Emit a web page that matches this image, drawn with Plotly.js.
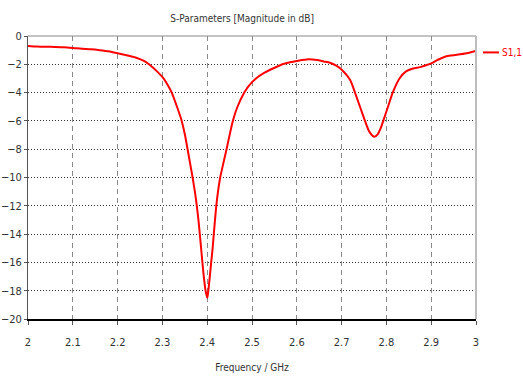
<!DOCTYPE html>
<html>
<head>
<meta charset="utf-8">
<script src="https://cdn.plot.ly/plotly-3.0.1.min.js"></script>
<style>
html,body{margin:0;padding:0;background:#fff;}
#chart{width:523px;height:376px;}
</style>
</head>
<body>
<div id="chart"></div>
<script>
// Frequency in GHz
const freq = [2.00,2.02,2.04,2.06,2.08,2.10,2.12,2.14,2.16,2.18,2.20,2.22,2.24,2.26,2.270,2.288,2.3025,2.3125,2.3208,2.3326,2.3431,2.3504,2.3562,2.3618,2.3674,2.3725,2.3768,2.3804,2.3835,2.3864,2.3893,2.3924,2.3964,2.4002,2.4025,2.4058,2.4089,2.4121,2.4147,2.4174,2.4203,2.4241,2.4290,2.4360,2.4432,2.4500,2.4572,2.4676,2.4828,2.4933,2.5089,2.5252,2.548,2.570,2.585,2.600,2.626,2.645,2.660,2.674,2.688,2.7009,2.7188,2.7299,2.7411,2.7522,2.7618,2.7730,2.7805,2.7868,2.7935,2.8036,2.8141,2.8292,2.8438,2.8594,2.8750,2.890,2.900,2.915,2.934,2.957,2.979,3.000];
// S1,1 magnitude in dB
const s11 = [-0.70,-0.74,-0.76,-0.77,-0.79,-0.84,-0.90,-0.94,-1.00,-1.08,-1.22,-1.36,-1.52,-1.78,-2.0,-2.5,-3.0,-3.5,-4.0,-5.0,-6.0,-7.0,-8.0,-9.0,-10.0,-11.0,-12.0,-13.0,-14.0,-15.0,-16.0,-17.0,-18.0,-18.5,-18.0,-17.0,-16.0,-15.0,-14.0,-13.0,-12.0,-11.0,-10.0,-9.0,-8.0,-7.0,-6.0,-5.0,-4.0,-3.5,-3.0,-2.64,-2.28,-1.98,-1.86,-1.77,-1.65,-1.70,-1.80,-1.89,-2.10,-2.40,-3.10,-4.0,-5.0,-6.0,-6.76,-7.12,-6.95,-6.55,-5.95,-5.0,-4.0,-3.0,-2.5,-2.3,-2.2,-2.05,-1.93,-1.68,-1.43,-1.33,-1.22,-1.06];
const seriesName = "S1,1";
const chartTitle = "S-Parameters [Magnitude in dB]";
const xTitle = "Frequency / GHz";

const FONT = '"Liberation Sans Narrow", "DejaVu Sans Condensed", "Liberation Sans", sans-serif';

const trace = {
  x: freq, y: s11, type: 'scatter', mode: 'lines', name: seriesName,
  line: {color: '#ff0000', width: 2, shape: 'spline', smoothing: 0.7},
  showlegend: false
};

const layout = {
  width: 523, height: 376,
  margin: {l: 28, r: 47, t: 36, b: 57},
  paper_bgcolor: '#ffffff', plot_bgcolor: '#ffffff',
  font: {family: FONT, size: 11, color: '#333'},
  title: {text: chartTitle, font: {family: FONT, size: 10, color: '#333'}, xref: 'paper', x: 0.478, xanchor: 'center', y: 0.95, yanchor: 'middle'},
  xaxis: {
    range: [2, 3], dtick: 0.1, tick0: 2,
    showgrid: true, gridcolor: '#8a8a8a', gridwidth: 1, griddash: '5px,4px',
    zeroline: false,
    showline: true, linecolor: '#000', linewidth: 2,
    ticks: 'outside', ticklen: 4, tickcolor: '#555', tickwidth: 1,
    ticklabelstandoff: 8,
    tickfont: {family: FONT, size: 11, color: '#333'},
    title: {text: xTitle, font: {family: FONT, size: 10, color: '#333'}, standoff: 16}
  },
  yaxis: {
    range: [-20, 0], dtick: 2, tick0: 0,
    showgrid: true, gridcolor: '#333', gridwidth: 1, griddash: '1px,2px',
    zeroline: false,
    showline: true, linecolor: '#555', linewidth: 1,
    ticks: 'outside', ticklen: 3, tickcolor: '#555', tickwidth: 1,
    tickfont: {family: FONT, size: 11, color: '#333'}
  },
  shapes: [
    {type: 'line', xref: 'paper', yref: 'paper', x0: 0, x1: 1, y0: 1, y1: 1, line: {color: '#888', width: 1}},
    {type: 'line', xref: 'paper', yref: 'paper', x0: 1, x1: 1, y0: 0, y1: 1, line: {color: '#bdbdbd', width: 2}},
    {type: 'line', xref: 'paper', yref: 'paper', x0: 1.0156, x1: 1.0513, y0: 0.942, y1: 0.942, line: {color: '#ff0000', width: 2}}
  ],
  annotations: [
    {text: seriesName, xref: 'paper', yref: 'paper', x: 1.054, y: 0.942, xanchor: 'left', yanchor: 'middle', showarrow: false, font: {family: FONT, size: 10, color: '#ff0000'}}
  ]
};

Plotly.newPlot('chart', [trace], layout, {displayModeBar: false, staticPlot: true});
</script>
</body>
</html>
